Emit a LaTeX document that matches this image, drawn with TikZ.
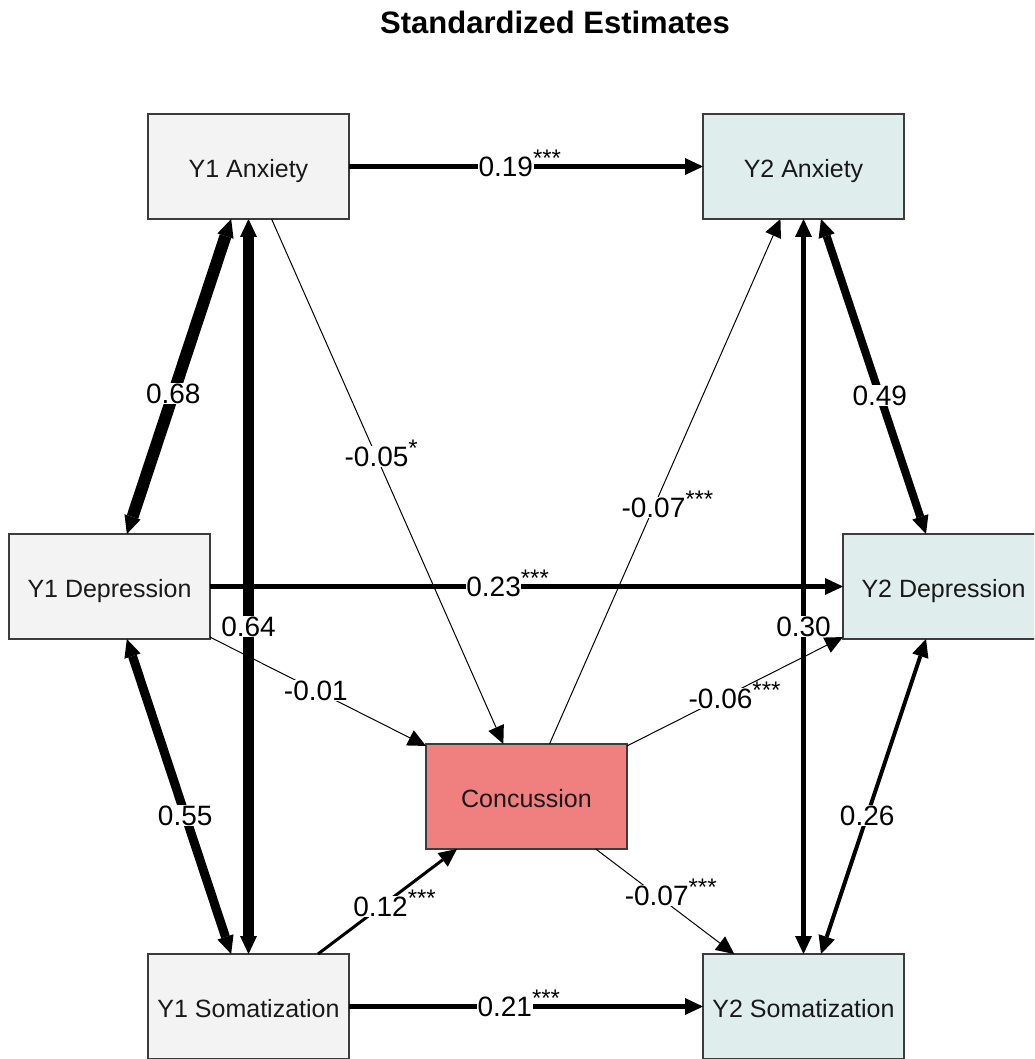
\documentclass[tikz,border=0pt]{standalone}
\usepackage{fontspec}
\setmainfont{Liberation Sans}
\usetikzlibrary{arrows.meta}
\definecolor{timeone}{HTML}{F3F3F3}
\definecolor{timetwo}{HTML}{DFEDED}
\definecolor{concfill}{HTML}{F08080}
\definecolor{boxline}{HTML}{3C3C3C}
% significance stars set as a superscript that takes no width
\newcommand\sigstars[1]{\rlap{\raisebox{10pt}{\fontsize{24}{24}\selectfont #1}}}

\begin{document}
\begin{tikzpicture}[x=1pt,y=-1pt,
  var/.style={draw=boxline, line width=1.5pt, rectangle, minimum width=201pt,
    minimum height=105pt, inner sep=0pt, outer sep=0pt,
    font=\fontsize{25}{25}\selectfont, text=black!90,
    text height=22pt, text depth=0pt},
  yone/.style={var, fill=timeone},
  ytwo/.style={var, fill=timetwo},
  hd/.tip={Triangle[length=18pt,width=17pt,line width=0pt]},
  regr/.style={draw=black, -{hd}},
  covar/.style={draw=black, {hd}-{hd}},
  lbl/.style={fill=white, inner sep=0.5pt, font=\fontsize{28}{28}\selectfont,
    text height=20pt, text depth=0pt},
]
\useasboundingbox (0,0) rectangle (1034,1059);
\clip (0,0) rectangle (1034,1059);
\fill[white] (0,0) rectangle (1034,1059);

\node[font=\fontsize{31}{31}\selectfont\bfseries] (title) at (555,22) {Standardized Estimates};

% variables
\node[yone] (A1) at (248.5,166.5) {Y1 Anxiety};
\node[ytwo] (A2) at (803.5,166.5) {Y2 Anxiety};
\node[yone] (D1) at (109.5,586.5) {Y1 Depression};
\node[ytwo] (D2) at (943.5,586.5) {Y2 Depression};
\node[var, fill=concfill] (C) at (526.5,796.5) {Concussion};
\node[yone] (S1) at (248.5,1006.5) {Y1 Somatization};
\node[ytwo] (S2) at (803.5,1006.5) {Y2 Somatization};

% covariances within each wave
\draw[covar, line width=12pt] (A1) -- node[lbl,pos=0.555]{0.68} (D1);
\draw[covar, line width=11pt] (A1) -- node[lbl,pos=0.555]{0.64} (S1);
\draw[covar, line width=9pt]  (D1) -- node[lbl,pos=0.56]{0.55} (S1);
\draw[covar, line width=8pt]  (A2) -- node[lbl,pos=0.56]{0.49} (D2);
\draw[covar, line width=5.5pt] (A2) -- node[lbl,pos=0.555]{0.30} (S2);
\draw[covar, line width=4pt]  (D2) -- node[lbl,pos=0.56]{0.26} (S2);

% autoregressive paths
\draw[regr, line width=5pt] (A1) -- node[lbl,pos=0.443]{0.19\sigstars{***}} (A2);
\draw[regr, line width=5pt] (D1) -- node[lbl,pos=0.448]{0.23\sigstars{***}} (D2);
\draw[regr, line width=5pt] (S1) -- node[lbl,pos=0.44]{0.21\sigstars{***}} (S2);

% paths into and out of concussion
\draw[regr, line width=1pt] (A1) -- node[lbl,pos=0.453]{-0.05\sigstars{*}} (C);
\draw[regr, line width=1pt] (D1) -- node[lbl,pos=0.49]{-0.01} (C);
\draw[regr, line width=3pt] (S1) -- node[lbl,pos=0.45]{0.12\sigstars{***}} (C);
\draw[regr, line width=1pt] (C) -- node[lbl,pos=0.45]{-0.07\sigstars{***}} (A2);
\draw[regr, line width=1pt] (C) -- node[lbl,pos=0.433]{-0.06\sigstars{***}} (D2);
\draw[regr, line width=1pt] (C) -- node[lbl,pos=0.44]{-0.07\sigstars{***}} (S2);
\end{tikzpicture}
\end{document}
